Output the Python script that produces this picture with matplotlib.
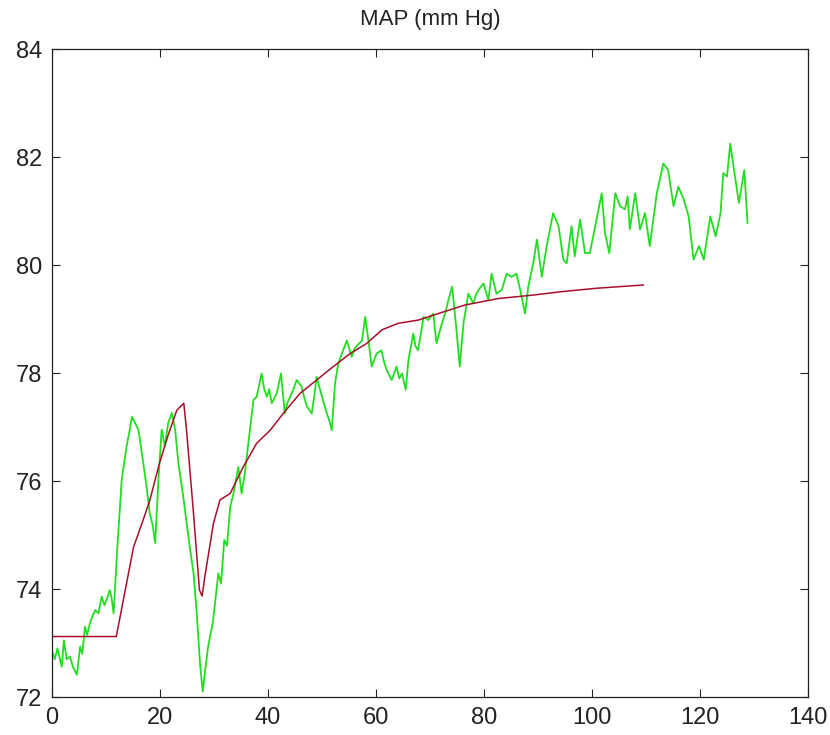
import matplotlib
matplotlib.use("Agg")
import matplotlib.pyplot as plt

map_t = [0.0, 0.5, 1.0, 1.8, 2.2, 2.7, 3.3, 3.9, 4.6, 5.2, 5.6, 6.1, 6.5, 7.0, 7.5,
         8.0, 8.6, 9.2, 9.7, 10.1, 10.7, 11.0, 11.4, 12.1, 12.9, 13.8, 14.3, 14.8,
         15.4, 16.0, 16.9, 17.5, 18.1, 18.6, 19.1, 19.7, 20.3, 20.9, 21.5, 22.2,
         22.8, 23.4, 24.3, 25.5, 26.2, 26.8, 27.4, 27.9, 28.3, 28.9, 29.8, 30.8,
         31.3, 31.9, 32.4, 33.0, 33.6, 34.5, 35.1, 35.7, 36.7, 37.3, 37.9, 38.4,
         38.8, 39.3, 39.8, 40.2, 40.7, 41.6, 42.4, 43.1, 43.6, 44.1, 44.7, 45.3,
         46.2, 46.7, 47.2, 48.1, 48.6, 49.0, 50.0, 50.9, 51.4, 51.8, 52.4, 53.0,
         53.9, 54.6, 55.5, 56.0, 56.4, 57.4, 58.0, 58.6, 59.2, 60.1, 61.0, 61.5,
         62.0, 62.9, 63.8, 64.3, 64.8, 65.5, 66.0, 66.9, 67.3, 67.8, 68.8, 69.7,
         70.6, 71.2, 72.2, 72.8, 73.4, 74.1, 74.9, 75.5, 76.2, 77.1, 78.0, 78.5,
         79.0, 79.9, 80.8, 81.4, 82.3, 83.3, 84.2, 85.1, 86.0, 86.7, 87.6, 88.2,
         89.1, 89.8, 90.7, 91.6, 92.8, 93.8, 94.7, 95.3, 96.2, 96.8, 97.8, 98.7,
         99.6, 100.6, 101.8, 102.4, 103.2, 104.3, 105.2, 106.1, 106.6, 107.0, 108.0,
         108.9, 109.8, 110.7, 112.0, 113.2, 114.1, 115.1, 116.0, 117.0, 117.9,
         118.8, 119.8, 120.7, 121.9, 122.9, 123.8, 124.3, 125.0, 125.6, 126.3,
         127.2, 128.2, 128.8]
map_meas = [72.85, 72.7, 72.9, 72.56, 73.05, 72.7, 72.75, 72.55, 72.41, 72.93, 72.8,
            73.3, 73.15, 73.36, 73.5, 73.61, 73.55, 73.86, 73.7, 73.8, 73.98, 73.85,
            73.55, 74.78, 76.02, 76.64, 76.9, 77.19, 77.07, 76.95, 76.33, 75.9, 75.4,
            75.2, 74.85, 76.02, 76.95, 76.64, 77.07, 77.26, 76.95, 76.33, 75.71,
            74.78, 74.3, 73.55, 72.62, 72.1, 72.44, 72.93, 73.4, 74.29, 74.1, 74.91,
            74.8, 75.52, 75.77, 76.26, 75.77, 76.14, 77.0, 77.5, 77.56, 77.8, 77.99,
            77.7, 77.56, 77.7, 77.44, 77.62, 77.99, 77.25, 77.45, 77.56, 77.7, 77.87,
            77.75, 77.55, 77.38, 77.25, 77.6, 77.93, 77.56, 77.25, 77.1, 76.94, 77.8,
            78.17, 78.42, 78.6, 78.3, 78.45, 78.5, 78.6, 79.04, 78.6, 78.12, 78.36,
            78.42, 78.2, 78.05, 77.87, 78.12, 77.9, 77.99, 77.69, 78.24, 78.73, 78.5,
            78.42, 79.04, 78.98, 79.1, 78.55, 78.92, 79.1, 79.35, 79.6, 78.79, 78.12,
            78.92, 79.47, 79.29, 79.45, 79.54, 79.66, 79.35, 79.84, 79.47, 79.54,
            79.84, 79.78, 79.84, 79.54, 79.1, 79.6, 80.03, 80.47, 79.78, 80.35, 80.96,
            80.72, 80.1, 80.03, 80.72, 80.16, 80.84, 80.22, 80.22, 80.72, 81.33, 80.59,
            80.22, 81.33, 81.09, 81.03, 81.27, 80.66, 81.33, 80.66, 80.96, 80.35,
            81.33, 81.88, 81.76, 81.09, 81.45, 81.21, 80.9, 80.1, 80.35, 80.1, 80.9,
            80.53, 80.96, 81.7, 81.64, 82.25, 81.76, 81.15, 81.76, 80.78]

# model MAP (red)
model_t = [0.0, 11.9, 13.5, 15.1, 16.6, 18.1, 19.9, 21.5, 23.1, 24.4, 24.9, 26.2,
           27.3, 27.8, 28.3, 29.9, 31.1, 33.0, 35.4, 37.9, 40.4, 42.8, 45.9, 49.0,
           52.1, 55.2, 58.3, 61.1, 64.1, 67.8, 71.5, 76.5, 82.7, 88.8, 94.7, 100.9,
           109.5]
model_map = [73.12, 73.12, 73.95, 74.78, 75.2, 75.64, 76.33, 76.85, 77.31, 77.44,
             76.95, 75.4, 73.98, 73.87, 74.23, 75.22, 75.65, 75.77, 76.26, 76.7,
             76.94, 77.25, 77.62, 77.87, 78.12, 78.36, 78.55, 78.8, 78.92, 78.98,
             79.1, 79.26, 79.38, 79.44, 79.51, 79.57, 79.63]

plt.rcParams["font.family"] = ["Liberation Sans", "DejaVu Sans"]

fig = plt.figure(figsize=(8.3, 7.35), dpi=100)
ax = fig.add_axes([0.0627, 0.0517, 0.9108, 0.8816])

ax.plot(map_t, map_meas, color="#22dd22", linewidth=1.3)
ax.plot(model_t, model_map, color="#a8102a", linewidth=1.1)

ax.set_xlim(0, 140)
ax.set_ylim(72, 84)
ax.set_xticks(range(0, 141, 20))
ax.set_yticks(range(72, 85, 2))
ax.tick_params(direction="in", top=True, right=True, length=6, width=0.8,
               labelsize=17, color="#222222", labelcolor="#222222")
ax.tick_params(axis="y", pad=7)
ax.tick_params(axis="x", pad=7)
for s in ax.spines.values():
    s.set_linewidth(0.9)
    s.set_color("#222222")

ax.set_title("MAP (mm Hg)", fontsize=16, pad=17, color="#222222")

fig.savefig("out.png", dpi=100)
